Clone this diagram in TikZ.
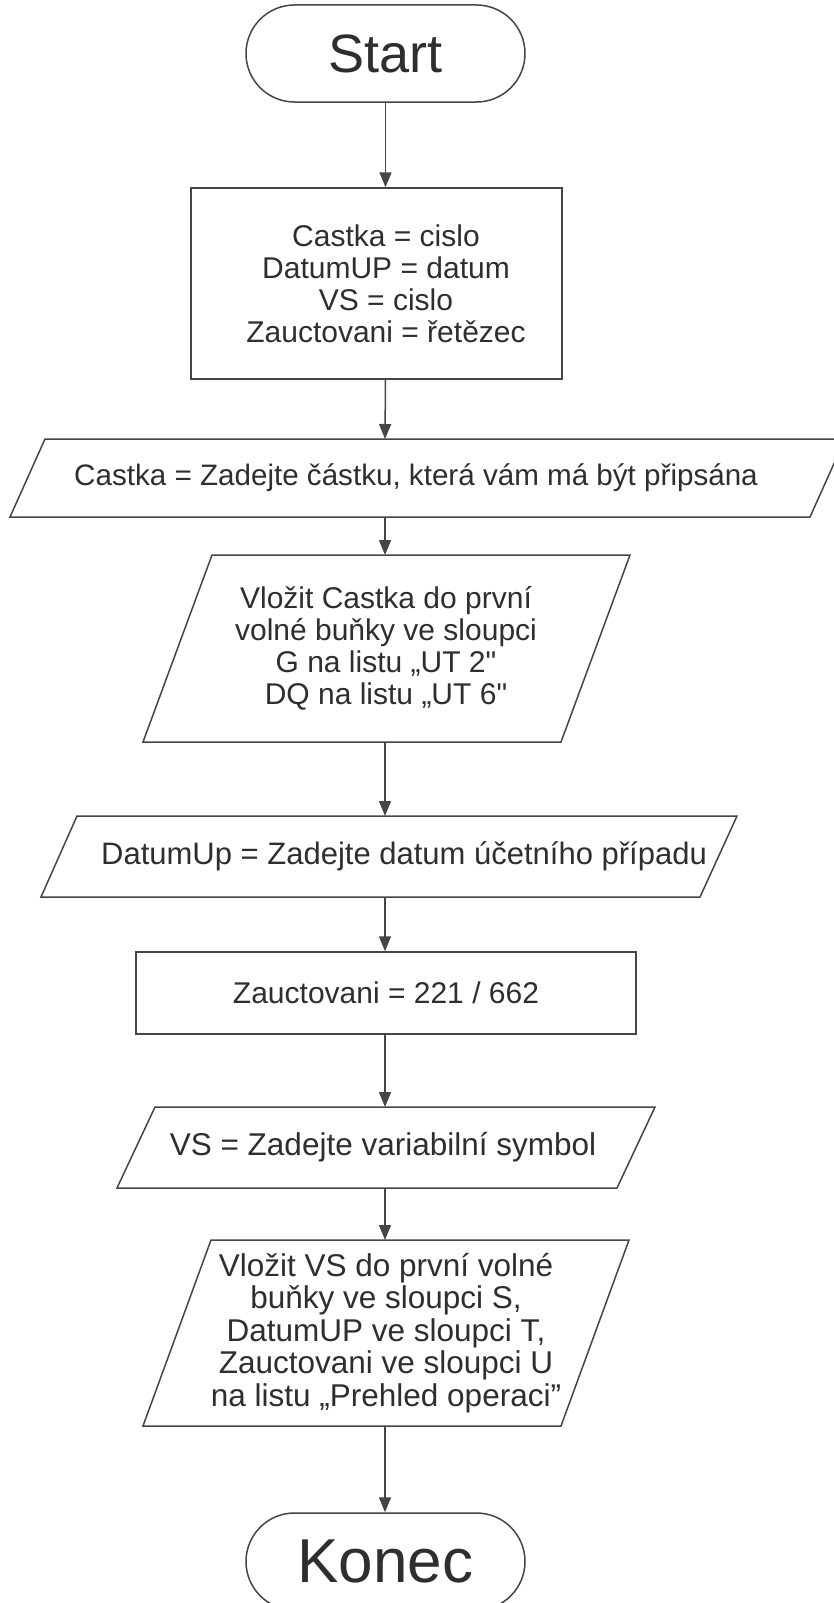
\documentclass[tikz,border=0pt]{standalone}
\usepackage{fontspec}
\newfontfamily\lib{Liberation Sans}
\usetikzlibrary{arrows.meta}
\definecolor{linec}{HTML}{454545}
\definecolor{textc}{HTML}{2E2E2E}
\begin{document}
\begin{tikzpicture}[x=1pt,y=-1pt,
  shp/.style={draw=linec, line width=1.5pt, line join=miter},
  term/.style={shp, rounded corners=48.5pt, minimum width=279pt, minimum height=97pt, inner sep=0pt},
  txt/.style={text=textc, font=\lib\fontsize{30}{32}\selectfont, align=center, inner sep=0pt},
  arr/.style={draw=linec, line width=1.5pt, -{Triangle[length=15pt,width=12pt]}}]
\useasboundingbox (0,0) rectangle (834,1603);

% Start
\node[term, text=textc, font=\lib\fontsize{54}{54}\selectfont] (start) at (385.5,53.5) {Start};

% Box 1
\node[shp, minimum width=371pt, minimum height=191pt, inner sep=0pt] (box1) at (376.5,283.5) {};
\node[txt] (box1t) at (386,283.5) {Castka = cislo\\DatumUP = datum\\VS = cislo\\Zauctovani = řetězec};

% Parallelogram 1
\draw[shp] (10,517) -- (45,439) -- (845,439) -- (810,517) -- cycle;
\coordinate (p1t) at (385,439);
\coordinate (p1b) at (385,517);
\node[txt, font=\lib\fontsize{29.6}{32}\selectfont] (p1) at (416,478) {Castka = Zadejte částku, která vám má být připsána};

% Parallelogram 2
\draw[shp] (143,742) -- (212,555) -- (630,555) -- (561,742) -- cycle;
\coordinate (p2t) at (385,555);
\coordinate (p2b) at (385,742);
\node[txt] (p2) at (386,648) {Vložit Castka do první\\volné buňky ve sloupci\\G na listu „UT 2"\\DQ na listu „UT 6"};

% Parallelogram 3
\draw[shp] (41,897) -- (77,816) -- (737,816) -- (700,897) -- cycle;
\coordinate (p3t) at (385,816);
\coordinate (p3b) at (385,897);
\node[txt, font=\lib\fontsize{31}{32}\selectfont] (p3) at (404,856.5) {DatumUp = Zadejte datum účetního případu};

% Box 2
\node[shp, minimum width=500pt, minimum height=82pt, inner sep=0pt] (box2) at (386,993) {};
\node[txt] (box2t) at (386,993) {Zauctovani = 221 / 662};

% Parallelogram 4
\draw[shp] (117,1188) -- (155,1107) -- (655,1107) -- (617,1188) -- cycle;
\coordinate (p4t) at (385,1107);
\coordinate (p4b) at (385,1188);
\node[txt, font=\lib\fontsize{31.5}{32}\selectfont] (p4) at (383,1147.5) {VS = Zadejte variabilní symbol};

% Parallelogram 5
\draw[shp] (143,1426) -- (211,1240) -- (629,1240) -- (561,1426) -- cycle;
\coordinate (p5t) at (385,1240);
\coordinate (p5b) at (385,1426);
\node[txt, font=\lib\fontsize{31.5}{32.5}\selectfont] (p5) at (386,1333) {Vložit VS do první volné\\buňky ve sloupci S,\\DatumUP ve sloupci T,\\Zauctovani ve sloupci U\\na listu „Prehled operaci”};

% Konec
\node[term, text=textc, font=\lib\fontsize{62}{62}\selectfont] (konec) at (385.5,1561.5) {Konec};

% Connectors
\draw[arr] (start.south) -- (start.south |- box1.north);
\draw[arr] (start.south |- box1.south) -- (p1t);
\draw[arr] (p1b) -- (p2t);
\draw[arr] (p2b) -- (p3t);
\draw[arr] (p3b) -- (p3b |- box2.north);
\draw[arr] (p3b |- box2.south) -- (p4t);
\draw[arr] (p4b) -- (p5t);
\draw[arr] (p5b) -- (p5b |- konec.north);
\end{tikzpicture}
\end{document}
